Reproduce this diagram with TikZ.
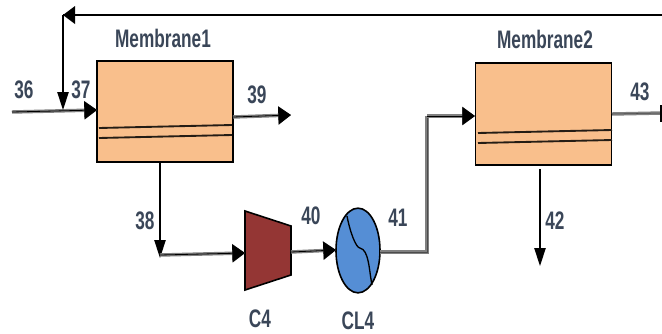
\documentclass[tikz,border=0pt]{standalone}
\usepackage{fontspec}
\setmainfont{Liberation Sans}
\usetikzlibrary{arrows.meta,shapes.geometric}
\definecolor{memfill}{HTML}{F9BF8C}
\definecolor{compfill}{HTML}{943634}
\definecolor{coolfill}{HTML}{558ED5}
\definecolor{txt}{HTML}{3A4658}
\newcommand{\narrow}[1]{\scalebox{0.68}[1]{#1}}
\tikzset{
  membrane/.style={draw=black,fill=memfill,line width=1.4pt,minimum width=102pt,minimum height=76pt,inner sep=0pt,outer sep=0pt},
  lbl/.style={text=txt,inner sep=0pt,font=\fontsize{19}{19}\selectfont\bfseries},
  flow/.style={line width=0.6pt,draw=black,-{Triangle[length=9.5pt,width=13.5pt]},preaction={draw=black!50,line width=2.6pt,-{Triangle[length=9.5pt,width=13.5pt]}}},
  flowplain/.style={line width=0.4pt,draw=black!70,preaction={draw=black!50,line width=2.6pt}},
  sharparrow/.style={line width=1.1pt,draw=black,-{Triangle[length=13.5pt,width=8.5pt]}},
  memline/.style={line width=1.4pt,draw=black!85!memfill},
  equip/.style={draw=black,line width=1.2pt},
}
\begin{document}
\begin{tikzpicture}[x=0.75pt,y=-0.75pt]
\useasboundingbox (0,0) rectangle (662,333);
% equipment
\node[membrane] (m1) at (165,111.5) {};
\node[membrane] (m2) at (543.5,114) {};
\draw[memline] (99,128) -- (232,125);
\draw[memline] (99,138) -- (232,135);
\draw[memline] (478,133) -- (612,130);
\draw[memline] (478,143) -- (612,140);
\draw[equip,fill=compfill] (245,211) coordinate (c4tl) -- (291,226) coordinate (c4tr) -- (291,275) coordinate (c4br) -- (245,290) coordinate (c4bl) -- cycle;
\node[draw=black,fill=coolfill,line width=1.2pt,ellipse,minimum width=33pt,minimum height=63.5pt,inner sep=0pt,outer sep=0pt] (cl4) at (358,250.5) {};
\draw[line width=1pt] (347,216) .. controls (350,232) and (356,248) .. (360,248) .. controls (369,250) and (369,270) .. (372,285);
% coordinates
\coordinate (s36) at (12,112);
\coordinate (e37) at (97,110);
\coordinate (rtop) at (662,15);
\coordinate (rcorner) at (63,15);
\coordinate (rjoin) at (63,110);
\coordinate (o39s) at (233,117);
\coordinate (o39e) at (291,115);
\coordinate (s38) at (160,162);
\coordinate (c38) at (160,258);
\coordinate (k38) at (160,255);
\coordinate (c4in) at (245,253);
\coordinate (c4out) at (291,252);
\coordinate (clin) at (336,250);
\coordinate (clout) at (380,252);
\coordinate (k41a) at (427,252);
\coordinate (k41b) at (427,116);
\coordinate (m2in) at (475,116);
\coordinate (o43s) at (612,114);
\coordinate (o43e) at (662,113);
\coordinate (s42) at (540,169);
\coordinate (e42) at (540,266);
% connectors
\draw[flow] (s36) -- (e37);
\draw[line width=0.9pt,draw=black,preaction={draw=black!45,line width=2.2pt}] (rtop) -- (rcorner);
\fill[black] (63,15) -- (75,6) -- (75,24) -- cycle;
\draw[sharparrow] (rcorner) -- (rjoin);
\draw[flow] (o39s) -- (o39e);
\draw[sharparrow] (s38) -- (c38);
\draw[flow] (k38) -- (c4in);
\draw[flow] (c4out) -- (clin);
\draw[flowplain,line join=miter] (clout) -- (k41a) -- (k41b);
\draw[flow] (k41b) -- (m2in);
\draw[flowplain] (o43s) -- (o43e);
\fill[black] (660,105) -- (662,105) -- (662,122) -- (660,122) -- cycle;
\draw[sharparrow] (s42) -- (e42);
% labels
\node[lbl] (t1) at (163,38) {\narrow{Membrane1}};
\node[lbl] (t2) at (545,39) {\narrow{Membrane2}};
\node[lbl] (t36) at (24,90) {\narrow{36}};
\node[lbl] (t37) at (81,90) {\narrow{37}};
\node[lbl] (t39) at (257,95) {\narrow{39}};
\node[lbl] (t38) at (145,221) {\narrow{38}};
\node[lbl] (t40) at (311,216) {\narrow{40}};
\node[lbl] (t41) at (398,218) {\narrow{41}};
\node[lbl] (t42) at (555,221) {\narrow{42}};
\node[lbl] (t43) at (640,92) {\narrow{43}};
\node[lbl] (tc4) at (260,319) {\narrow{C4}};
\node[lbl] (tcl4) at (358,321) {\narrow{CL4}};
\end{tikzpicture}
\end{document}
